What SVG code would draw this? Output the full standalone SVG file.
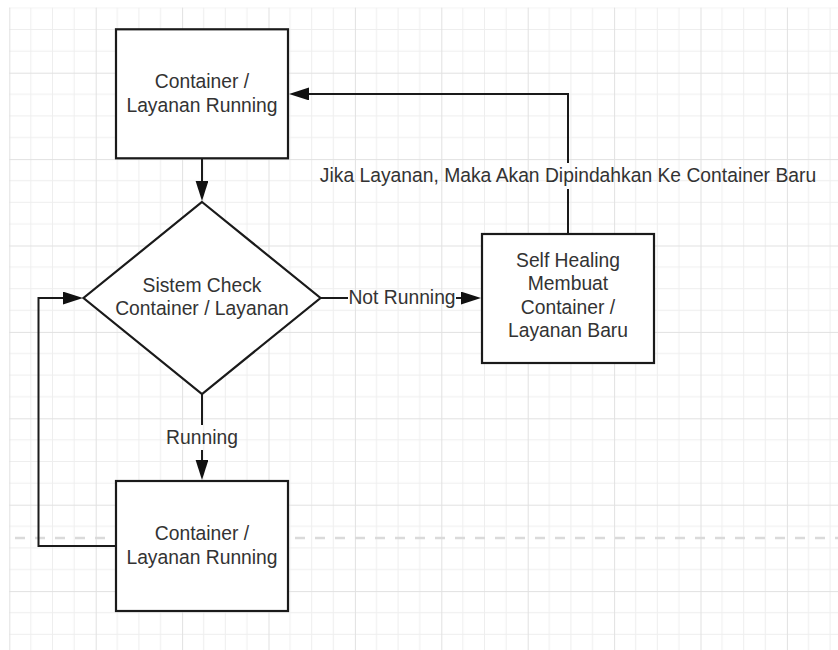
<svg xmlns="http://www.w3.org/2000/svg" width="838" height="650" viewBox="0 0 838 650">
  <defs>
    <!-- background grid: 4 minor cells per major cell -->
    <pattern id="grid" x="9.3" y="-13.7" width="86.4" height="86.4" patternUnits="userSpaceOnUse">
      <path d="M21.6,0V86.4M43.2,0V86.4M64.8,0V86.4M0,21.6H86.4M0,43.2H86.4M0,64.8H86.4" stroke="#eeeeee" stroke-width="1" fill="none"/>
      <path d="M0.5,0V86.4M0,0.5H86.4" stroke="#e1e1e1" stroke-width="1" fill="none"/>
    </pattern>
    <marker id="arrow" markerUnits="userSpaceOnUse" markerWidth="22" markerHeight="14" refX="1" refY="6.4" orient="auto">
      <path d="M0,0 L20,6.4 L0,12.8 Z" fill="#111"/>
    </marker>
    <style>
      .node { fill: #ffffff; stroke: #1a1a1a; stroke-width: 2.2; }
      .label { font-family: "Liberation Sans", Arial, sans-serif; font-size: 19.3px; fill: #333333; text-anchor: middle; }
      .edge { fill: none; stroke: #1a1a1a; stroke-width: 2; }
    </style>
  </defs>

  <rect x="0" y="0" width="838" height="650" fill="#ffffff"/>
  <rect x="9" y="7.5" width="829" height="642.5" fill="url(#grid)"/>
  <line x1="15" y1="538" x2="838" y2="538" stroke="#dadada" stroke-width="2.5" stroke-dasharray="10 10"/>

  <g id="connectors">
    <!-- top box to decision -->
    <path class="edge" d="M202,159 V182" marker-end="url(#arrow)"/>
    <!-- decision to bottom box, labelled Running -->
    <path class="edge" d="M202,394 V425"/>
    <path class="edge" d="M202,450 V461" marker-end="url(#arrow)"/>
    <text class="label" x="202" y="443.5">Running</text>
    <!-- decision to self healing, labelled Not Running -->
    <path class="edge" d="M320,298 H348"/>
    <path class="edge" d="M456,298 H462" marker-end="url(#arrow)"/>
    <text class="label" x="402" y="303.5">Not Running</text>
    <!-- loop back from bottom box to decision -->
    <path class="edge" d="M116,546 H38.5 V298 H64" marker-end="url(#arrow)"/>
    <!-- self healing back to top box -->
    <path class="edge" d="M568,234 V189"/>
    <path class="edge" d="M568,163 V94 H308" marker-end="url(#arrow)"/>
    <text class="label" x="568" y="182">Jika Layanan, Maka Akan Dipindahkan Ke Container Baru</text>
  </g>

  <g id="node-top">
    <rect class="node" x="116" y="29.3" width="172" height="129"/>
    <text class="label" x="202" y="88">Container /</text>
    <text class="label" x="202" y="111.5">Layanan Running</text>
  </g>

  <g id="node-check">
    <polygon class="node" points="202,202 320.5,298 202,394 83.5,298"/>
    <text class="label" x="202" y="291.5">Sistem Check</text>
    <text class="label" x="202" y="315">Container / Layanan</text>
  </g>

  <g id="node-heal">
    <rect class="node" x="482" y="234" width="172" height="129"/>
    <text class="label" x="568" y="266.5">Self Healing</text>
    <text class="label" x="568" y="290">Membuat</text>
    <text class="label" x="568" y="313.5">Container /</text>
    <text class="label" x="568" y="337">Layanan Baru</text>
  </g>

  <g id="node-bottom">
    <rect class="node" x="116" y="481" width="172" height="130"/>
    <text class="label" x="202" y="540">Container /</text>
    <text class="label" x="202" y="563.5">Layanan Running</text>
  </g>
</svg>
